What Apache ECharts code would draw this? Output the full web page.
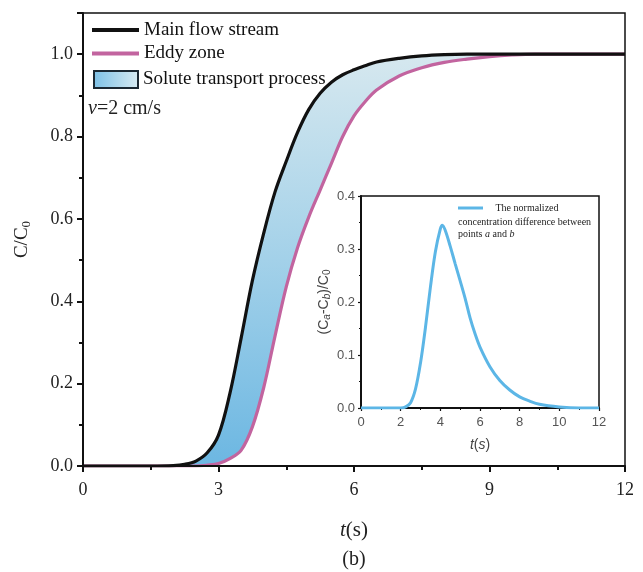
<!DOCTYPE html>
<html>
<head>
<meta charset="utf-8">
<script src="https://cdn.jsdelivr.net/npm/echarts@6/dist/echarts.min.js"></script>
<style>html,body{margin:0;padding:0;background:#fff;}#c{width:643px;height:572px;}</style>
</head>
<body>
<div id="c"></div>
<script>
// time grid (s)
const tGrid = [0,0.5,1,1.5,2,2.25,2.5,2.75,3,3.25,3.5,3.75,4,4.25,4.5,4.75,5,5.25,5.5,5.75,6,6.25,6.5,7,7.5,8,8.5,9,9.5,10,11,12];
// Main flow stream C/C0
const mainFlow = [0,0,0,0,0.001,0.004,0.012,0.032,0.075,0.175,0.31,0.45,0.565,0.665,0.74,0.81,0.866,0.905,0.932,0.95,0.962,0.972,0.981,0.99,0.996,0.999,1,1,1,1,1,1];
// Eddy zone C/C0
const eddyZone = [0,0,0,0,0,0,0,0.002,0.006,0.018,0.038,0.095,0.19,0.315,0.435,0.53,0.605,0.67,0.735,0.80,0.85,0.885,0.913,0.947,0.967,0.98,0.988,0.994,0.998,1,1,1];
// Inset: normalized concentration difference
const insetT = [0,1,2,2.25,2.5,2.75,3,3.25,3.5,3.75,4,4.1,4.25,4.5,4.75,5,5.25,5.5,5.75,6,6.5,7,7.5,8,8.5,9,10,11,12];
const insetDiff = [0,0,0,0.002,0.01,0.036,0.085,0.152,0.228,0.295,0.338,0.345,0.335,0.305,0.272,0.24,0.207,0.17,0.14,0.115,0.078,0.052,0.034,0.021,0.013,0.007,0.002,0,0];
const mainXTicks = [0,3,6,9,12];
const mainYTicks = [0,0.2,0.4,0.6,0.8,1.0];

const pair = (xs, ys) => xs.map((x, i) => [x, ys[i]]);

const serif = 'Liberation Serif';
const sans = 'Liberation Sans';
const SM = 0.35;
const chart = echarts.init(document.getElementById('c'), null, {renderer: 'canvas'});

const bandGrad = new echarts.graphic.LinearGradient(0, 0, 0, 1, [
  {offset: 0, color: '#d6e8ef'}, {offset: 0.5, color: '#a3d1e9'}, {offset: 1, color: '#6cb7e2'}]);
const legendGrad = new echarts.graphic.LinearGradient(0, 0, 1, 0, [
  {offset: 0, color: '#7cc0e6'}, {offset: 1, color: '#d8ebf3'}]);

chart.setOption({
  animation: false,
  backgroundColor: '#fff',
  grid: [
    {left: 83, top: 13, width: 542, height: 453, show: true, borderColor: '#111', borderWidth: 1.5, backgroundColor: 'transparent', z: 6},
    {left: 361, top: 196, width: 238, height: 212, show: true, borderColor: '#111', borderWidth: 1.5, backgroundColor: '#fff', z: 10}
  ],
  xAxis: [
    {type: 'value', gridIndex: 0, min: 0, max: 12, interval: 3, z: 6,
     axisLine: {show: true, onZero: false, lineStyle: {color: '#111', width: 2}},
     axisTick: {show: true, length: 6, lineStyle: {color: '#111', width: 2}},
     minorTick: {show: true, splitNumber: 2, length: 4, lineStyle: {color: '#111', width: 2}},
     splitLine: {show: false},
     axisLabel: {margin: 15, fontFamily: serif, fontSize: 18, color: '#222', formatter: v => mainXTicks.includes(v) ? String(v) : ''},
     name: '{it|t}(s)', nameLocation: 'middle', nameGap: 54,
     nameTextStyle: {fontFamily: serif, fontSize: 21, color: '#222', rich: {it: {fontFamily: serif, fontSize: 21, fontStyle: 'italic', color: '#222'}}}
    },
    {type: 'value', gridIndex: 1, min: 0, max: 12, interval: 2,
     axisLine: {show: true, onZero: false, lineStyle: {color: '#111', width: 2}},
     axisTick: {show: true, length: 3, lineStyle: {color: '#111', width: 1.2}},
     minorTick: {show: true, splitNumber: 2, length: 2, lineStyle: {color: '#111', width: 1}},
     splitLine: {show: false},
     axisLabel: {margin: 8, fontFamily: sans, fontSize: 13, color: '#555'},
     name: '{it|t}({it|s})', nameLocation: 'middle', nameGap: 30, z: 10,
     nameTextStyle: {fontFamily: sans, fontSize: 14, color: '#444', rich: {it: {fontFamily: sans, fontSize: 14, fontStyle: 'italic', color: '#444'}}}
    }
  ],
  yAxis: [
    {type: 'value', gridIndex: 0, min: 0, max: 1.1, interval: 0.2, z: 6,
     axisLine: {show: true, onZero: false, lineStyle: {color: '#111', width: 2}},
     axisTick: {show: true, length: 6, lineStyle: {color: '#111', width: 2}},
     minorTick: {show: true, splitNumber: 2, length: 4, lineStyle: {color: '#111', width: 2}},
     splitLine: {show: false},
     axisLabel: {margin: 10, fontFamily: serif, fontSize: 18, color: '#222',
       formatter: v => mainYTicks.some(t => Math.abs(t - v) < 1e-6) ? v.toFixed(1) : ''},
     name: 'C/C{sub|0}', nameLocation: 'middle', nameGap: 50, nameRotate: 90,
     nameTextStyle: {fontFamily: serif, fontSize: 19, color: '#222', lineHeight: 22,
       rich: {sub: {fontFamily: serif, fontSize: 13, color: '#222', lineHeight: 22, padding: [9, 0, 0, 0]}}}
    },
    {type: 'value', gridIndex: 1, min: 0, max: 0.4, interval: 0.1,
     axisLine: {show: true, onZero: false, lineStyle: {color: '#111', width: 2}},
     axisTick: {show: true, length: 3, lineStyle: {color: '#111', width: 1.2}},
     minorTick: {show: true, splitNumber: 2, length: 2, lineStyle: {color: '#111', width: 1}},
     splitLine: {show: false},
     axisLabel: {margin: 6, fontFamily: sans, fontSize: 13, color: '#555', formatter: v => v.toFixed(1)},
     name: '(C{sub|a}-C{sub|b})/C{sub0|0}', nameLocation: 'middle', nameGap: 28, nameRotate: 90, z: 10,
     nameTextStyle: {fontFamily: sans, fontSize: 14, color: '#444', lineHeight: 18,
       rich: {sub: {fontFamily: sans, fontSize: 10, fontStyle: 'italic', color: '#444', lineHeight: 18, padding: [7, 0, 0, 0]},
              sub0: {fontFamily: sans, fontSize: 10, color: '#444', lineHeight: 18, padding: [7, 0, 0, 0]}}}
    }
  ],
  legend: [
    {data: [{name: 'Main flow stream', itemStyle: {color: '#111'}}, {name: 'Eddy zone', itemStyle: {color: '#c2649f'}}],
     orient: 'vertical', left: 92, top: 20.5, padding: 0, itemGap: 4.5, itemWidth: 47, itemHeight: 4, icon: 'rect',
     textStyle: {fontFamily: serif, fontSize: 19, color: '#111'}, selectedMode: false},
    {data: [{name: 'Solute transport process', itemStyle: {color: legendGrad, borderColor: '#1b2833', borderWidth: 2}}],
     orient: 'vertical', left: 93, top: 70, padding: 0, itemWidth: 44, itemHeight: 17, icon: 'rect',
     textStyle: {fontFamily: serif, fontSize: 19, color: '#111'}, selectedMode: false},
    {data: [{name: 'The normalized concentration difference between points a and b', itemStyle: {color: '#5cb6e6'}}],
     left: 458, top: 203, padding: 0, itemWidth: 25, itemHeight: 3, icon: 'rect', z: 12,
     formatter: () => '   The normalized',
     textStyle: {fontFamily: serif, fontSize: 10, color: '#222'}, selectedMode: false}
  ],
  graphic: [
    {type: 'text', left: 88, top: 99, z: 20,
     style: {text: '{i|v}=2 cm/s', font: '20px "Liberation Serif"', fill: '#222',
       rich: {i: {fontFamily: serif, fontSize: 20, fontStyle: 'italic', fill: '#222'}}}},
    {type: 'text', left: 458, top: 216, z: 20,
     style: {text: 'concentration difference between\npoints {i|a} and {i|b}', font: '10px "Liberation Serif"', fill: '#222', lineHeight: 12,
       rich: {i: {fontFamily: serif, fontSize: 10, fontStyle: 'italic', fill: '#222', lineHeight: 12}}}},
    {type: 'text', x: 354, y: 560, z: 20,
     style: {text: '(b)', font: '20px "Liberation Serif"', fill: '#222', textAlign: 'center', textVerticalAlign: 'middle'}}
  ],
  series: [
    // band: area under main flow curve, masked below the eddy-zone curve
    {name: 'Solute transport process', type: 'line', xAxisIndex: 0, yAxisIndex: 0, data: pair(tGrid, mainFlow),
     smooth: SM, symbol: 'none', lineStyle: {width: 0, opacity: 0},
     itemStyle: {color: '#8cc8e8'}, areaStyle: {color: bandGrad, opacity: 1}, silent: true, z: 1},
    {name: 'mask', type: 'line', xAxisIndex: 0, yAxisIndex: 0, data: pair(tGrid, eddyZone),
     smooth: SM, symbol: 'none', lineStyle: {width: 0, opacity: 0},
     areaStyle: {color: '#ffffff', opacity: 1}, silent: true, z: 2},
    {name: 'Eddy zone', type: 'line', xAxisIndex: 0, yAxisIndex: 0, data: pair(tGrid, eddyZone),
     smooth: SM, symbol: 'none', lineStyle: {color: '#c2649f', width: 3.2},
     itemStyle: {color: '#c2649f'}, z: 3},
    {name: 'Main flow stream', type: 'line', xAxisIndex: 0, yAxisIndex: 0, data: pair(tGrid, mainFlow),
     smooth: SM, symbol: 'none', lineStyle: {color: '#111', width: 3.2},
     itemStyle: {color: '#111'}, z: 4},
    {name: 'The normalized concentration difference between points a and b', type: 'line', xAxisIndex: 1, yAxisIndex: 1,
     data: pair(insetT, insetDiff), smooth: SM, symbol: 'none',
     lineStyle: {color: '#5cb6e6', width: 3}, itemStyle: {color: '#5cb6e6'}, z: 11}
  ]
});
</script>
</body>
</html>
